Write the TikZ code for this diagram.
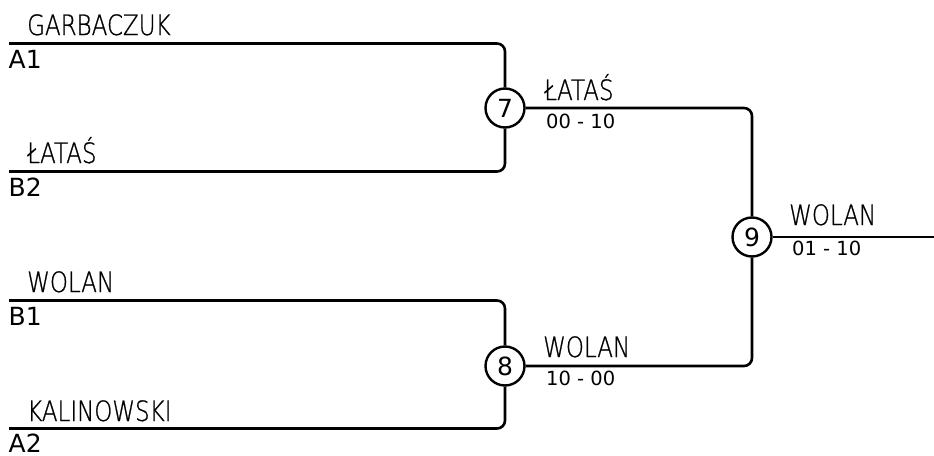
\documentclass[tikz,border=0pt]{standalone}
\usepackage{fontspec}
\setmainfont{DejaVu Sans}
\newfontfamily\namefont[FakeStretch=0.82,FakeBold=0.8]{DejaVu Sans ExtraLight}
\begin{document}
\begin{tikzpicture}[x=1pt,y=-1pt,
  bracket/.style={line width=2.6pt, rounded corners=8pt},
  match/.style={circle, draw, line width=2.4pt, minimum size=39pt, inner sep=0pt, font=\fontsize{25}{25}\selectfont},
  player/.style={anchor=base west, inner sep=0pt, font=\namefont\fontsize{28}{28}\selectfont},
  seed/.style={anchor=base west, inner sep=0pt, font=\fontsize{25}{25}\selectfont},
  result/.style={anchor=base west, inner sep=0pt, font=\fontsize{19.5}{19.5}\selectfont}]
\useasboundingbox (0,0) rectangle (934,455);
\coordinate (a1) at (9,43.5);
\coordinate (b2) at (9,171.5);
\coordinate (b1) at (9,300.5);
\coordinate (a2) at (9,428.5);
\coordinate (out) at (934,237);
\node[match] (c7) at (505,108) {7};
\node[match] (c8) at (505,366) {8};
\node[match] (c9) at (752,237) {9};
\draw[bracket] (a1) -| (c7);
\draw[bracket] (b2) -| (c7);
\draw[bracket] (b1) -| (c8);
\draw[bracket] (a2) -| (c8);
\draw[bracket] (c7) -| (c9);
\draw[bracket] (c8) -| (c9);
\draw[bracket] (c9) -- (out);
\node[player] (n1) at (27,35) {GARBACZUK};
\node[seed] (s1) at (8.5,68) {A1};
\node[player] (n2) at (27,163) {ŁATAŚ};
\node[seed] (s2) at (8.5,196) {B2};
\node[player] (n3) at (27,292) {WOLAN};
\node[seed] (s3) at (8.5,325) {B1};
\node[player] (n4) at (27,421) {KALINOWSKI};
\node[seed] (s4) at (8.5,452.5) {A2};
\node[player] (w7) at (544,100) {ŁATAŚ};
\node[result] (r7) at (546,128) {00 - 10};
\node[player] (w8) at (543,357) {WOLAN};
\node[result] (r8) at (546,385) {10 - 00};
\node[player] (w9) at (789,225) {WOLAN};
\node[result] (r9) at (792,255.5) {01 - 10};
\end{tikzpicture}
\end{document}
